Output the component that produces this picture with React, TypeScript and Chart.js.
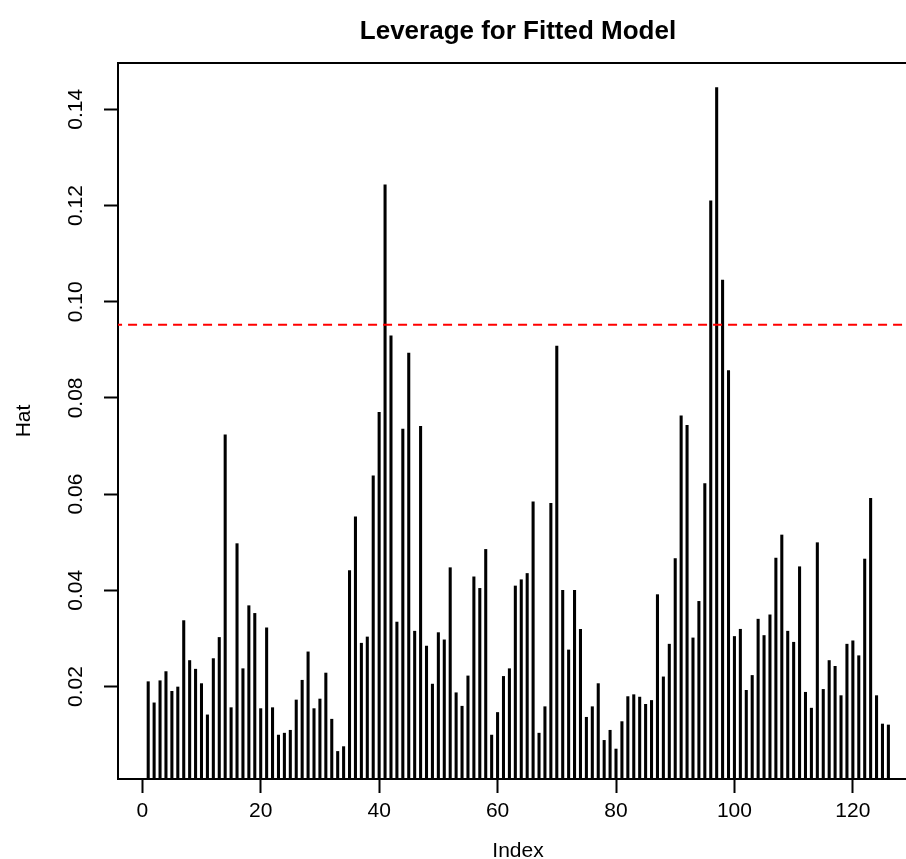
import React, { useEffect, useRef } from "react";
import { Chart, registerables } from "chart.js";

Chart.register(...registerables);

// Leverage (hat) values for observations 1..126
const hatValues: number[] = [
  0.0210, 0.0166, 0.0212, 0.0231, 0.0190, 0.0199, 0.0337, 0.0254, 0.0236, 0.0206,
  0.0141, 0.0258, 0.0302, 0.0723, 0.0156, 0.0497, 0.0237, 0.0368, 0.0352, 0.0154,
  0.0322, 0.0156, 0.0099, 0.0103, 0.0109, 0.0172, 0.0213, 0.0272, 0.0154, 0.0174,
  0.0228, 0.0132, 0.0065, 0.0075, 0.0441, 0.0553, 0.0290, 0.0303, 0.0638, 0.0770,
  0.1243, 0.0929, 0.0334, 0.0735, 0.0893, 0.0315, 0.0741, 0.0284, 0.0205, 0.0312,
  0.0297, 0.0447, 0.0187, 0.0159, 0.0222, 0.0428, 0.0404, 0.0485, 0.0099, 0.0146,
  0.0221, 0.0237, 0.0409, 0.0422, 0.0435, 0.0584, 0.0103, 0.0158, 0.0581, 0.0908,
  0.0400, 0.0276, 0.0400, 0.0319, 0.0136, 0.0158, 0.0206, 0.0088, 0.0109, 0.0070,
  0.0127, 0.0179, 0.0183, 0.0178, 0.0163, 0.0171, 0.0391, 0.0220, 0.0288, 0.0466,
  0.0763, 0.0743, 0.0301, 0.0377, 0.0622, 0.1210, 0.1445, 0.1045, 0.0857, 0.0304,
  0.0319, 0.0192, 0.0223, 0.0340, 0.0306, 0.0349, 0.0467, 0.0515, 0.0315, 0.0292,
  0.0449, 0.0188, 0.0155, 0.0499, 0.0194, 0.0254, 0.0242, 0.0181, 0.0288, 0.0295,
  0.0264, 0.0465, 0.0591, 0.0181, 0.0122, 0.0120,
];

const cutoffValue = 0.0952;

const xTickValues: number[] = [0, 20, 40, 60, 80, 100, 120];
const yTickValues: number[] = [0.02, 0.04, 0.06, 0.08, 0.1, 0.12, 0.14];
const yTickLabels: string[] = ["0.02", "0.04", "0.06", "0.08", "0.10", "0.12", "0.14"];

const chartTitle = "Leverage for Fitted Model";
const xAxisTitle = "Index";
const yAxisTitle = "Hat";

const FONT = '"Liberation Sans", Arial, Helvetica, sans-serif';

const rPlotPlugin = {
  id: "rPlotDecor",
  afterDraw(chart: any) {
    const { ctx, chartArea: a, scales } = chart;
    ctx.save();
    // remaining sides of the box
    ctx.strokeStyle = "#000";
    ctx.lineWidth = 2;
    ctx.beginPath();
    ctx.moveTo(a.left - 1, a.top);
    ctx.lineTo(a.right, a.top);
    ctx.lineTo(a.right, a.bottom);
    ctx.stroke();

    ctx.fillStyle = "#000";
    ctx.font = `21px ${FONT}`;
    ctx.textAlign = "center";
    ctx.textBaseline = "alphabetic";
    // rotated y tick labels
    yTickValues.forEach((v, i) => {
      const y = scales.y.getPixelForValue(v);
      ctx.save();
      ctx.translate(82, y);
      ctx.rotate(-Math.PI / 2);
      ctx.fillText(yTickLabels[i], 0, 0);
      ctx.restore();
    });
    // y axis title
    ctx.save();
    ctx.translate(30, (a.top + a.bottom) / 2);
    ctx.rotate(-Math.PI / 2);
    ctx.fillText(yAxisTitle, 0, 0);
    ctx.restore();
    // x axis title
    ctx.fillText(xAxisTitle, (a.left + a.right) / 2, 857);
    // main title
    ctx.font = `bold 26px ${FONT}`;
    ctx.fillText(chartTitle, (a.left + a.right) / 2, 39);
    ctx.restore();
  },
};

export default function App() {
  const canvasRef = useRef<HTMLCanvasElement | null>(null);

  useEffect(() => {
    if (!canvasRef.current) return;
    const points = hatValues.map((v, i) => ({ x: i + 1, y: v }));
    const chart = new Chart(canvasRef.current, {
      type: "bar",
      data: {
        datasets: [
          {
            type: "line",
            data: [
              { x: -10, y: cutoffValue },
              { x: 140, y: cutoffValue },
            ],
            borderColor: "#ff0000",
            borderWidth: 2,
            borderDash: [9, 6],
            pointRadius: 0,
            fill: false,
            order: 0,
          } as any,
          {
            type: "bar",
            data: points,
            backgroundColor: "#000",
            borderWidth: 0,
            barThickness: 2.4,
            clip: 0,
            order: 1,
          } as any,
        ],
      },
      options: {
        animation: false,
        responsive: false,
        events: [],
        layout: { padding: { top: 63, left: 0, right: 0, bottom: 0 } },
        plugins: {
          legend: { display: false },
          tooltip: { enabled: false },
          title: { display: false },
        },
        scales: {
          x: {
            type: "linear",
            min: -4.1,
            max: 131,
            offset: false,
            afterBuildTicks: (scale: any) => {
              scale.ticks = xTickValues.map((v) => ({ value: v }));
            },
            afterFit: (scale: any) => {
              scale.height = 80;
            },
            border: { display: true, color: "#000", width: 2 },
            grid: {
              offset: false,
              drawOnChartArea: false,
              drawTicks: true,
              tickLength: 14,
              tickWidth: 2,
              tickColor: "#000",
            },
            ticks: {
              color: "#000",
              font: { family: FONT, size: 21 },
              padding: 6,
              maxRotation: 0,
              minRotation: 0,
              autoSkip: false,
            },
          },
          y: {
            type: "linear",
            min: 0.00077,
            max: 0.14963,
            afterBuildTicks: (scale: any) => {
              scale.ticks = yTickValues.map((v) => ({ value: v }));
            },
            afterFit: (scale: any) => {
              scale.width = 118;
            },
            border: { display: true, color: "#000", width: 2 },
            grid: {
              offset: false,
              drawOnChartArea: false,
              drawTicks: true,
              tickLength: 14,
              tickWidth: 2,
              tickColor: "#000",
            },
            ticks: { display: false },
          },
        },
      },
      plugins: [rPlotPlugin],
    });
    return () => chart.destroy();
  }, []);

  return (
    <div
      style={{
        position: "absolute",
        left: 0,
        top: 0,
        width: 906,
        height: 859,
        overflow: "hidden",
        background: "#fff",
      }}
    >
      <canvas ref={canvasRef} width={918} height={859} style={{ width: 918, height: 859, display: "block" }} />
    </div>
  );
}
